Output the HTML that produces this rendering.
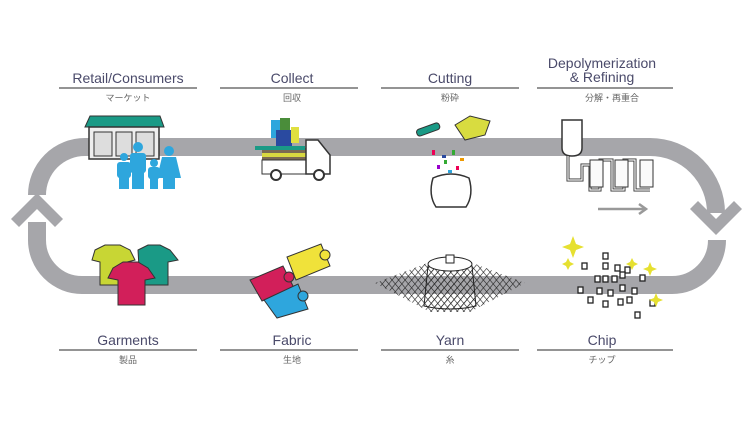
<!DOCTYPE html>
<html><head><meta charset="utf-8"><style>
html,body{margin:0;padding:0;background:#fff;}
svg{display:block;}
.en{font-family:"Liberation Sans",sans-serif;font-size:14px;fill:#4a4a6a;text-anchor:middle;}
.jp{font-family:"Liberation Sans","Noto Sans CJK JP",sans-serif;font-size:9px;fill:#666;text-anchor:middle;}
</style></head><body>
<svg width="750" height="421" viewBox="0 0 750 421" xmlns="http://www.w3.org/2000/svg">
<defs>
<pattern id="hatch" width="5" height="5" patternUnits="userSpaceOnUse" patternTransform="rotate(40)">
<rect width="5" height="5" fill="none"/><line x1="0" y1="0" x2="0" y2="5" stroke="#222" stroke-width="1.2"/>
</pattern>
<pattern id="hatch2" width="5" height="5" patternUnits="userSpaceOnUse" patternTransform="rotate(-40)">
<line x1="0" y1="0" x2="0" y2="5" stroke="#222" stroke-width="1.2"/>
</pattern>
</defs>
<rect width="750" height="421" fill="#fff"/>
<g fill="none" stroke="#a6a6aa" stroke-width="18">
<path d="M650 147 L85 147 A48 48 0 0 0 37 195"/>
<path d="M37 222 L37 240 A45 45 0 0 0 82 285 L672 285 A45 45 0 0 0 717 240"/>
<path d="M650 147 A66 66 0 0 1 716 213"/>
</g>
<polygon points="37,193 63,219 55,227 37,209 19,227 11,219" fill="#a6a6aa"/>
<polygon points="716,235 690,209 698,201 716,219 734,201 742,209" fill="#a6a6aa"/>
<g class="en">
<text x="128" y="83">Retail/Consumers</text>
<text x="292" y="83">Collect</text>
<text x="450" y="83">Cutting</text>
<text x="602" y="68">Depolymerization</text>
<text x="602" y="82">&amp; Refining</text>
<text x="128" y="345">Garments</text>
<text x="292" y="345">Fabric</text>
<text x="450" y="345">Yarn</text>
<text x="602" y="345">Chip</text>
</g>
<g stroke="#555" stroke-width="1.2">
<line x1="59" y1="88" x2="197" y2="88"/><line x1="220" y1="88" x2="358" y2="88"/>
<line x1="381" y1="88" x2="519" y2="88"/><line x1="537" y1="88" x2="673" y2="88"/>
<line x1="59" y1="350" x2="197" y2="350"/><line x1="220" y1="350" x2="358" y2="350"/>
<line x1="381" y1="350" x2="519" y2="350"/><line x1="537" y1="350" x2="673" y2="350"/>
</g>
<g class="jp">
<text x="128" y="101">マーケット</text><text x="292" y="101">回収</text>
<text x="450" y="101">粉砕</text><text x="612" y="101">分解・再重合</text>
<text x="128" y="363">製品</text><text x="292" y="363">生地</text>
<text x="450" y="363">糸</text><text x="602" y="363">チップ</text>
</g>
<!-- store -->
<polygon points="85,127 90,116 160,116 164,127" fill="#1a9a86" stroke="#333"/>
<rect x="89" y="127" width="70" height="32" fill="#eee" stroke="#333" stroke-width="1.5"/>
<rect x="94" y="132" width="18" height="24" fill="#ddd" stroke="#333"/>
<rect x="116" y="132" width="16" height="24" fill="#ddd" stroke="#333"/>
<rect x="136" y="132" width="18" height="24" fill="#ddd" stroke="#333"/>
<g fill="#2ea6dd">
<circle cx="124" cy="157" r="4"/><rect x="117" y="162" width="14" height="16" rx="3"/><rect x="119" y="175" width="10" height="14"/>
<circle cx="138" cy="147" r="5"/><rect x="130" y="153" width="16" height="20" rx="3"/><rect x="132" y="170" width="12" height="19"/>
<circle cx="154" cy="163" r="4"/><rect x="148" y="167" width="12" height="12" rx="3"/><rect x="150" y="177" width="8" height="12"/>
<circle cx="169" cy="151" r="5"/><polygon points="162,157 176,157 181,178 157,178"/><rect x="163" y="176" width="12" height="13"/>
</g>
<!-- truck -->
<rect x="262" y="148" width="44" height="12" fill="#7a6a52"/>
<rect x="255" y="146" width="50" height="4" fill="#1a9a86"/>
<rect x="262" y="153" width="44" height="4" fill="#d8d840"/>
<rect x="271" y="120" width="10" height="18" fill="#2ea6dd"/>
<rect x="280" y="118" width="10" height="20" fill="#4a8d3a"/>
<rect x="276" y="130" width="16" height="16" fill="#2a4aa0"/>
<rect x="291" y="127" width="8" height="16" fill="#e0e040"/>
<rect x="262" y="160" width="44" height="14" fill="#fff" stroke="#333"/>
<path d="M306 140 L318 140 L330 155 L330 174 L306 174 Z" fill="#fff" stroke="#333" stroke-width="1.5"/>
<circle cx="276" cy="175" r="5" fill="#fff" stroke="#333" stroke-width="2"/>
<circle cx="319" cy="175" r="5" fill="#fff" stroke="#333" stroke-width="2"/>
<!-- cutting -->
<rect x="416" y="126" width="24" height="7" rx="3" transform="rotate(-20 428 129)" fill="#1a9a86" stroke="#333"/>
<polygon points="455,125 470,116 490,121 485,135 465,140" fill="#d8dc40" stroke="#333"/>
<g>
<rect x="432" y="150" width="3" height="5" fill="#e05"/><rect x="442" y="155" width="4" height="3" fill="#2a4aa0"/>
<rect x="452" y="150" width="3" height="5" fill="#3a3"/><rect x="460" y="158" width="4" height="3" fill="#e90"/>
<rect x="437" y="165" width="3" height="4" fill="#90c"/><rect x="448" y="170" width="4" height="3" fill="#2ea6dd"/>
<rect x="456" y="166" width="3" height="4" fill="#e05"/><rect x="444" y="160" width="3" height="4" fill="#3a3"/>
</g>
<path d="M433 178 Q451 170 469 178 Q474 195 466 207 L436 207 Q428 195 433 178 Z" fill="#fff" stroke="#333" stroke-width="1.5"/>
<!-- depolymerization -->
<path d="M562 120 L582 120 L582 148 Q582 156 572 156 Q562 156 562 148 Z" fill="#fff" stroke="#333" stroke-width="1.5"/>
<path d="M568 156 L568 180 L582 180 L582 165 L590 165 L590 190 L600 190 L600 160 L612 160 L612 190 L624 190 L624 160 L635 160 L635 190 L650 190" fill="none" stroke="#333" stroke-width="3"/>
<path d="M568 156 L568 180 L582 180 L582 165 L590 165 L590 190 L600 190 L600 160 L612 160 L612 190 L624 190 L624 160 L635 160 L635 190 L650 190" fill="none" stroke="#fff" stroke-width="1.2"/>
<rect x="590" y="160" width="13" height="27" fill="#fafafa" stroke="#333"/>
<rect x="615" y="160" width="13" height="27" fill="#fafafa" stroke="#333"/>
<rect x="640" y="160" width="13" height="27" fill="#fafafa" stroke="#333"/>
<line x1="598" y1="209" x2="645" y2="209" stroke="#999" stroke-width="2.5"/>
<polyline points="639,204 646,209 639,214" fill="none" stroke="#999" stroke-width="2.5"/>
<!-- garments -->
<path d="M95 250 L105 245 L120 245 L130 250 L135 260 L127 262 L127 285 L100 285 L100 262 L92 260 Z" fill="#c8d634" stroke="#333"/>
<path d="M138 250 L148 245 L160 245 L170 250 L178 260 L168 262 L168 285 L140 285 Z" fill="#1a9a86" stroke="#333"/>
<path d="M113 268 L123 262 L138 262 L148 268 L155 278 L145 280 L145 305 L118 305 L118 280 L108 278 Z" fill="#d21f5a" stroke="#333"/>
<!-- fabric -->
<polygon points="287,257 321,244 330,266 296,280" fill="#f0e23a" stroke="#333"/>
<circle cx="325" cy="255" r="5" fill="#f0e23a" stroke="#333"/>
<polygon points="250,280 283,266 294,288 262,301" fill="#d21f5a" stroke="#333"/>
<circle cx="289" cy="277" r="5" fill="#d21f5a" stroke="#333"/>
<polygon points="264,300 298,284 308,309 277,318" fill="#2ea6dd" stroke="#333"/>
<circle cx="303" cy="296" r="5" fill="#2ea6dd" stroke="#333"/>
<!-- yarn -->
<polygon points="375,283 430,262 470,262 525,283 470,312 430,312" fill="url(#hatch)"/>
<polygon points="375,283 430,262 470,262 525,283 470,312 430,312" fill="url(#hatch2)"/>
<path d="M428 266 Q450 256 472 266 L476 306 Q450 312 424 306 Z" fill="url(#hatch)" stroke="#222"/>
<ellipse cx="450" cy="264" rx="22" ry="7" fill="#fff" stroke="#222"/>
<rect x="446" y="255" width="8" height="8" fill="#fff" stroke="#222"/>
<!-- chip -->
<g fill="#fff" stroke="#222" stroke-width="1.3">
<rect x="603" y="253" width="5" height="6"/><rect x="582" y="263" width="5" height="6"/><rect x="603" y="263" width="5" height="6"/>
<rect x="615" y="265" width="5" height="6"/><rect x="625" y="267" width="5" height="6"/><rect x="595" y="276" width="5" height="6"/>
<rect x="603" y="276" width="5" height="6"/><rect x="612" y="276" width="5" height="6"/><rect x="620" y="272" width="5" height="6"/>
<rect x="640" y="275" width="5" height="6"/><rect x="578" y="287" width="5" height="6"/><rect x="597" y="288" width="5" height="6"/>
<rect x="608" y="290" width="5" height="6"/><rect x="620" y="285" width="5" height="6"/><rect x="632" y="288" width="5" height="6"/>
<rect x="588" y="297" width="5" height="6"/><rect x="603" y="301" width="5" height="6"/><rect x="618" y="299" width="5" height="6"/>
<rect x="627" y="297" width="5" height="6"/><rect x="650" y="300" width="5" height="6"/><rect x="635" y="312" width="5" height="6"/>
</g>
<g fill="#e6e030">
<path d="M573 236 L576 244 L584 247 L576 250 L573 258 L570 250 L562 247 L570 244 Z"/>
<path d="M568 258 L570 262 L574 264 L570 266 L568 270 L566 266 L562 264 L566 262 Z"/>
<path d="M632 258 L634 262 L638 264 L634 266 L632 270 L630 266 L626 264 L630 262 Z"/>
<path d="M650 262 L652 267 L657 269 L652 271 L650 276 L648 271 L643 269 L648 267 Z"/>
<path d="M656 293 L658 298 L663 300 L658 302 L656 307 L654 302 L649 300 L654 298 Z"/>
</g>
</svg>
</body></html>
